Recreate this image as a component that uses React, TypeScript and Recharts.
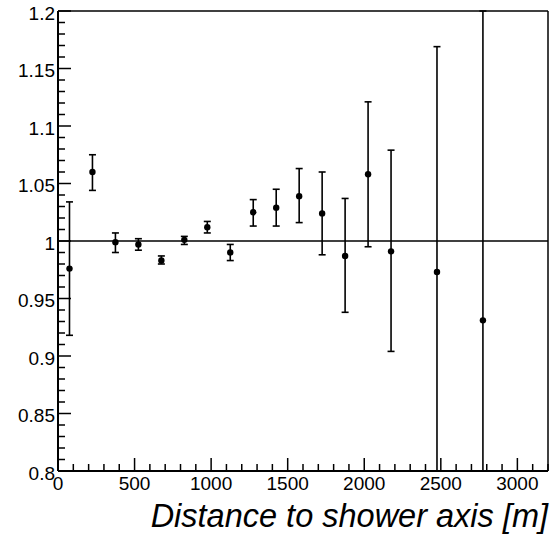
import React from "react";
import {
  ScatterChart,
  Scatter,
  ErrorBar,
  XAxis,
  YAxis,
  ReferenceLine,
  Label,
} from "recharts";

// bin centres [m]
const distances = [75, 225, 375, 525, 675, 825, 975, 1125, 1275, 1425, 1575, 1725, 1875, 2025, 2175, 2475, 2775];
// ratio values
const ratios = [0.976, 1.06, 0.999, 0.997, 0.983, 1.001, 1.012, 0.99, 1.025, 1.029, 1.039, 1.024, 0.987, 1.058, 0.991, 0.973, 0.931];
// error bar ends (clipped ones at the frame)
const upper = [1.034, 1.075, 1.007, 1.002, 0.987, 1.004, 1.017, 0.997, 1.036, 1.045, 1.063, 1.06, 1.037, 1.121, 1.079, 1.169, 1.2];
const lower = [0.918, 1.044, 0.99, 0.992, 0.98, 0.997, 1.007, 0.983, 1.013, 1.013, 1.016, 0.988, 0.938, 0.995, 0.904, 0.8, 0.8];

const xMajor = [0, 500, 1000, 1500, 2000, 2500, 3000];
const yMajor = [0.8, 0.85, 0.9, 0.95, 1, 1.05, 1.1, 1.15, 1.2];

// minor ticks every 100 m and every 0.01
const xTicks: number[] = [];
for (let v = 0; v <= 3200; v += 100) xTicks.push(v);
const yTicks: number[] = [];
for (let i = 80; i <= 120; i++) yTicks.push(i / 100);

const data = distances.map((d, i) => ({
  x: d,
  y: ratios[i],
  err: [ratios[i] - lower[i], upper[i] - ratios[i]],
}));

const FONT = "'Liberation Sans', Arial, Helvetica, sans-serif";

const XTick = (props: any) => {
  const { x, y, payload } = props;
  const major = xMajor.includes(payload.value);
  return (
    <g>
      <line x1={x} x2={x} y1={y} y2={y - (major ? 13 : 7)} stroke="#000" strokeWidth={1.5} />
      {major && (
        <text x={x} y={y + 19} textAnchor="middle" fontSize={19} fontFamily={FONT} fill="#000">
          {payload.value}
        </text>
      )}
    </g>
  );
};

const YTick = (props: any) => {
  const { x, y, payload } = props;
  const major = yMajor.some((m) => Math.abs(m - payload.value) < 1e-6);
  return (
    <g>
      <line x1={x} x2={x + (major ? 13 : 7)} y1={y} y2={y} stroke="#000" strokeWidth={1.5} />
      {major && (
        <text x={x - 3} y={y + 8.5} textAnchor="end" fontSize={19} fontFamily={FONT} fill="#000">
          {String(payload.value)}
        </text>
      )}
    </g>
  );
};

const Dot = (props: any) => <circle cx={props.cx} cy={props.cy} r={3.2} fill="#000" />;

const AxisTitle = (props: any) => {
  const vb = props.viewBox;
  return (
    <text
      x={vb.x + vb.width}
      y={vb.y + 56}
      textAnchor="end"
      fontSize={32.5}
      fontStyle="italic"
      fontFamily={FONT}
      fill="#000"
    >
      Distance to shower axis [m]
    </text>
  );
};

export default function App() {
  return (
    <div style={{ position: "absolute", left: 0, top: 0, background: "#fff" }}>
      <ScatterChart width={552} height={536} margin={{ top: 11, right: 4, bottom: 0, left: 0 }}>
        <XAxis
          type="number"
          dataKey="x"
          domain={[0, 3200]}
          ticks={xTicks}
          interval={0}
          tickSize={0}
          tickMargin={0}
          tick={<XTick />}
          height={65}
          axisLine={{ stroke: "#000", strokeWidth: 2 }}
          allowDataOverflow
        >
          <Label content={<AxisTitle />} />
        </XAxis>
        <YAxis
          type="number"
          dataKey="y"
          domain={[0.8, 1.2]}
          ticks={yTicks}
          interval={0}
          tickSize={0}
          tickMargin={0}
          tick={<YTick />}
          width={58}
          axisLine={{ stroke: "#000", strokeWidth: 2 }}
          allowDataOverflow
        />
        <ReferenceLine y={1.2} stroke="#000" strokeWidth={1.5} />
        <ReferenceLine x={3200} stroke="#000" strokeWidth={1.5} />
        <ReferenceLine y={1} stroke="#000" strokeWidth={1.5} />
        <Scatter data={data} fill="#000" shape={<Dot />} isAnimationActive={false}>
          <ErrorBar dataKey="err" direction="y" width={3.5} stroke="#000" strokeWidth={1.6} isAnimationActive={false} />
        </Scatter>
      </ScatterChart>
    </div>
  );
}
